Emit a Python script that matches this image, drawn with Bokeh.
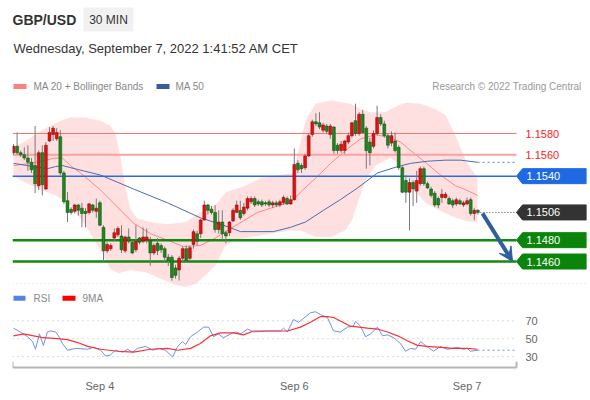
from bokeh.plotting import figure
from bokeh.layouts import column
from bokeh.models import Range1d, FixedTicker, Arrow, VeeHead, Span
from bokeh.embed import file_html
from bokeh.resources import INLINE
from bokeh.core.properties import value

FONT = "Liberation Sans"

# ---------------- data (30-min GBP/USD candles) ----------------
open_ = [1.1562, 1.1568, 1.1562, 1.1560, 1.1557, 1.1553, 1.1550, 1.1531, 1.1562, 1.1528,
         1.1573, 1.1579, 1.1575, 1.1577, 1.1543, 1.1517, 1.1509, 1.1507, 1.1513, 1.1510,
         1.1507, 1.1506, 1.1513, 1.1507, 1.1515, 1.1492, 1.1470, 1.1472, 1.1482, 1.1485,
         1.1484, 1.1470, 1.1483, 1.1478, 1.1471, 1.1482, 1.1479, 1.1480, 1.1480, 1.1468,
         1.1477, 1.1475, 1.1472, 1.1464, 1.1464, 1.1454, 1.1452, 1.1463, 1.1472, 1.1463,
         1.1476, 1.1486, 1.1486, 1.1499, 1.1513, 1.1509, 1.1506, 1.1490, 1.1497, 1.1487,
         1.1487, 1.1498, 1.1506, 1.1508, 1.1505, 1.1510, 1.1516, 1.1519, 1.1516, 1.1516,
         1.1515, 1.1516, 1.1513, 1.1515, 1.1513, 1.1515, 1.1519, 1.1514, 1.1518, 1.1552,
         1.1550, 1.1548, 1.1559, 1.1579, 1.1591, 1.1590, 1.1583, 1.1587, 1.1579, 1.1586,
         1.1569, 1.1564, 1.1564, 1.1572, 1.1578, 1.1592, 1.1580, 1.1598, 1.1585, 1.1572,
         1.1568, 1.1580, 1.1595, 1.1589, 1.1578, 1.1571, 1.1573, 1.1567, 1.1548, 1.1536,
         1.1525, 1.1534, 1.1526, 1.1533, 1.1547, 1.1533, 1.1528, 1.1524, 1.1519, 1.1520,
         1.1520, 1.1519, 1.1517, 1.1514, 1.1517, 1.1513, 1.1514, 1.1518, 1.1505, 1.1508]
high_ = [1.1570, 1.1581, 1.1564, 1.1567, 1.1569, 1.1557, 1.1587, 1.1564, 1.1569, 1.1572,
         1.1586, 1.1587, 1.1585, 1.1583, 1.1545, 1.1525, 1.1511, 1.1514, 1.1514, 1.1515,
         1.1510, 1.1515, 1.1514, 1.1519, 1.1517, 1.1494, 1.1478, 1.1477, 1.1491, 1.1493,
         1.1494, 1.1484, 1.1491, 1.1480, 1.1494, 1.1483, 1.1492, 1.1491, 1.1483, 1.1477,
         1.1482, 1.1477, 1.1474, 1.1467, 1.1466, 1.1457, 1.1465, 1.1474, 1.1475, 1.1475,
         1.1490, 1.1489, 1.1500, 1.1517, 1.1514, 1.1512, 1.1513, 1.1508, 1.1508, 1.1489,
         1.1498, 1.1510, 1.1517, 1.1517, 1.1515, 1.1521, 1.1521, 1.1521, 1.1518, 1.1518,
         1.1517, 1.1518, 1.1517, 1.1517, 1.1518, 1.1522, 1.1521, 1.1522, 1.1566, 1.1555,
         1.1552, 1.1561, 1.1580, 1.1593, 1.1599, 1.1600, 1.1590, 1.1589, 1.1589, 1.1587,
         1.1571, 1.1573, 1.1574, 1.1581, 1.1591, 1.1608, 1.1600, 1.1602, 1.1587, 1.1576,
         1.1583, 1.1606, 1.1598, 1.1592, 1.1580, 1.1582, 1.1581, 1.1569, 1.1550, 1.1541,
         1.1538, 1.1536, 1.1545, 1.1549, 1.1549, 1.1535, 1.1530, 1.1526, 1.1521, 1.1528,
         1.1525, 1.1521, 1.1519, 1.1520, 1.1519, 1.1517, 1.1520, 1.1520, 1.1510, 1.1509]
low_ = [1.1560, 1.1560, 1.1558, 1.1555, 1.1545, 1.1543, 1.1524, 1.1527, 1.1522, 1.1527,
        1.1572, 1.1573, 1.1573, 1.1541, 1.1514, 1.1497, 1.1504, 1.1505, 1.1503, 1.1492,
        1.1492, 1.1504, 1.1506, 1.1501, 1.1493, 1.1459, 1.1468, 1.1470, 1.1479, 1.1483,
        1.1468, 1.1468, 1.1477, 1.1467, 1.1469, 1.1476, 1.1477, 1.1477, 1.1456, 1.1466,
        1.1466, 1.1468, 1.1459, 1.1456, 1.1442, 1.1444, 1.1442, 1.1459, 1.1459, 1.1461,
        1.1472, 1.1475, 1.1482, 1.1498, 1.1504, 1.1504, 1.1487, 1.1486, 1.1480, 1.1477,
        1.1484, 1.1497, 1.1506, 1.1499, 1.1503, 1.1508, 1.1514, 1.1511, 1.1512, 1.1511,
        1.1512, 1.1511, 1.1510, 1.1511, 1.1511, 1.1513, 1.1513, 1.1513, 1.1517, 1.1543,
        1.1543, 1.1546, 1.1558, 1.1577, 1.1587, 1.1584, 1.1581, 1.1580, 1.1575, 1.1561,
        1.1561, 1.1562, 1.1561, 1.1570, 1.1576, 1.1578, 1.1578, 1.1580, 1.1547, 1.1550,
        1.1566, 1.1578, 1.1587, 1.1576, 1.1566, 1.1568, 1.1562, 1.1546, 1.1524, 1.1515,
        1.1489, 1.1512, 1.1515, 1.1531, 1.1531, 1.1528, 1.1520, 1.1511, 1.1510, 1.1515,
        1.1519, 1.1513, 1.1510, 1.1512, 1.1513, 1.1511, 1.1513, 1.1503, 1.1499, 1.1504]
close_ = [1.1568, 1.1562, 1.1560, 1.1557, 1.1553, 1.1546, 1.1533, 1.1562, 1.1532, 1.1569,
          1.1581, 1.1585, 1.1581, 1.1543, 1.1516, 1.1506, 1.1506, 1.1513, 1.1508, 1.1505,
          1.1505, 1.1514, 1.1508, 1.1510, 1.1494, 1.1470, 1.1476, 1.1475, 1.1487, 1.1491,
          1.1471, 1.1483, 1.1479, 1.1468, 1.1479, 1.1478, 1.1483, 1.1483, 1.1468, 1.1475,
          1.1470, 1.1471, 1.1464, 1.1461, 1.1445, 1.1447, 1.1463, 1.1472, 1.1461, 1.1473,
          1.1488, 1.1479, 1.1499, 1.1513, 1.1508, 1.1506, 1.1490, 1.1497, 1.1486, 1.1484,
          1.1497, 1.1508, 1.1513, 1.1501, 1.1511, 1.1519, 1.1519, 1.1513, 1.1514, 1.1513,
          1.1514, 1.1513, 1.1515, 1.1513, 1.1516, 1.1520, 1.1514, 1.1518, 1.1551, 1.1546,
          1.1547, 1.1559, 1.1578, 1.1591, 1.1589, 1.1586, 1.1588, 1.1582, 1.1587, 1.1564,
          1.1564, 1.1570, 1.1573, 1.1578, 1.1590, 1.1580, 1.1598, 1.1581, 1.1564, 1.1562,
          1.1580, 1.1595, 1.1589, 1.1578, 1.1569, 1.1578, 1.1564, 1.1548, 1.1525, 1.1525,
          1.1534, 1.1528, 1.1536, 1.1547, 1.1533, 1.1529, 1.1522, 1.1513, 1.1513, 1.1523,
          1.1523, 1.1514, 1.1513, 1.1518, 1.1514, 1.1515, 1.1517, 1.1505, 1.1508, 1.1506]

# MA 20 and Bollinger bands (candle index -> price)
ma20_x = [0, 4.7, 8.9, 11.7, 13.6, 15.8, 18.6, 24.2, 28.3, 33.3, 38.1, 42.8, 47.2, 51.9, 56.1,
          60.3, 67.8, 74.2, 76.9, 79.7, 83.9, 88.1, 92.2, 96.4, 100.6, 104.7, 107.5, 110.3,
          114.4, 118.6, 122.8, 125.8, 128.9]
ma20_y = [1.1550, 1.1552, 1.1555, 1.1557, 1.1557, 1.1550, 1.1543, 1.1527, 1.1513, 1.1496,
          1.1486, 1.1480, 1.1474, 1.1475, 1.1482, 1.1491, 1.1506, 1.1513, 1.1515, 1.1525,
          1.1538, 1.1552, 1.1564, 1.1575, 1.1579, 1.1576, 1.1572, 1.1564, 1.1553, 1.1541,
          1.1531, 1.1527, 1.1522]
bb_up_x = [0, 3.3, 8.9, 13.1, 15.8, 20, 24.2, 26.9, 28.3, 29.7, 31.1, 32.5, 34.4, 38.1, 42.8,
           47.8, 51.9, 56.1, 58.9, 64.4, 68.6, 74.2, 77.5, 79.2, 81.1, 83.9, 88.1, 93.6, 96.4,
           99.2, 103.3, 106.1, 108.9, 113.1, 117.2, 120, 122.8, 125.6, 128.9]
bb_up_y = [1.1567, 1.1573, 1.1585, 1.1592, 1.1595, 1.1595, 1.1592, 1.1587, 1.1580, 1.1558,
           1.1529, 1.1509, 1.1500, 1.1497, 1.1495, 1.1497, 1.1506, 1.1513, 1.1525, 1.1531,
           1.1538, 1.1541, 1.1543, 1.1564, 1.1592, 1.1608, 1.1611, 1.1608, 1.1603, 1.1600,
           1.1600, 1.1605, 1.1609, 1.1608, 1.1603, 1.1597, 1.1578, 1.1555, 1.1538]
bb_lo_x = [0, 3.3, 7.5, 11.7, 15.8, 20, 24.2, 26.9, 29.2, 32.5, 36.7, 40.8, 45, 47.8, 50.6,
           53.3, 56.1, 58.9, 61.7, 65.8, 71.4, 76.9, 79.7, 83.9, 88.1, 92.2, 94.2, 95.8, 97.8,
           100.6, 104.7, 107.5, 110.3, 114.4, 117.2, 121.4, 125.6, 128.9]
bb_lo_y = [1.1540, 1.1534, 1.1527, 1.1522, 1.1513, 1.1494, 1.1470, 1.1453, 1.1449, 1.1452,
           1.1450, 1.1444, 1.1438, 1.1436, 1.1439, 1.1447, 1.1456, 1.1475, 1.1480, 1.1483,
           1.1486, 1.1489, 1.1489, 1.1483, 1.1483, 1.1489, 1.1500, 1.1517, 1.1536, 1.1550,
           1.1557, 1.1550, 1.1531, 1.1515, 1.1510, 1.1503, 1.1498, 1.1497]
ma50_x = [0, 5.6, 9.4, 11.7, 13.6, 15.8, 19.4, 24.2, 33.3, 42.8, 51.9, 58.3, 63.1, 72.2, 76.9,
          81.1, 86.1, 90.8, 95.6, 101.1, 106.7, 110.3, 115, 120, 124.2, 128.9]
ma50_y = [1.1552, 1.1549, 1.1547, 1.1549, 1.1550, 1.1548, 1.1545, 1.1541, 1.1528, 1.1515,
          1.1501, 1.1494, 1.1488, 1.1488, 1.1492, 1.1497, 1.1508, 1.1518, 1.1529, 1.1543,
          1.1549, 1.1552, 1.1554, 1.1555, 1.1555, 1.1553]

# key levels
resistances = [1.1580, 1.1560]
pivot = 1.1540
last_price = 1.1506
supports = [1.1480, 1.1460]

# RSI and its 9-period MA
rsi_x = [0, 1.9, 3.9, 5.3, 6.1, 7.2, 8.3, 9.4, 10.3, 11.7, 12.5, 13.6, 15, 17.2, 20.6, 22.2,
         24.2, 25.6, 26.9, 28.3, 30.3, 31.7, 33.1, 34.4, 36.7, 38.6, 40.3, 42.2, 44.2, 45.6,
         46.9, 47.8, 49.2, 51.1, 52.8, 54.2, 55.6, 56.9, 58.3, 60.3, 61.7, 63.1, 65, 66.7,
         70.6, 74.2, 75, 76.1, 77.8, 79.2, 82.5, 83.9, 85.3, 87.2, 88.9, 90.8, 92.8, 94.4,
         95, 96.4, 97.8, 99.2, 101.1, 102.5, 103.9, 105.6, 107.5, 108.9, 110.3, 111.7, 113.1,
         114.4, 116.7, 118.6, 120.6, 123.3, 125, 126.1, 126.9, 128.9]
rsi_v = [61.8, 57.5, 52.2, 46.8, 38.2, 55.4, 42.5, 57.5, 58.6, 57.5, 53.2, 44.6, 37.1, 39.2,
         38.2, 40.3, 37.1, 30.6, 31.7, 37.1, 34.9, 38.2, 34.9, 39.2, 41.4, 37.1, 39.2, 37.1,
         29.6, 41.4, 46.8, 43.5, 52.2, 57.5, 62.9, 62.9, 52.2, 55.4, 51.1, 55.4, 57.5, 55.4,
         60.8, 57.5, 58.6, 58.6, 61.8, 57.5, 71.5, 68.3, 79.0, 80.1, 76.9, 73.7, 58.6, 57.5,
         62.9, 64.0, 69.4, 64.0, 52.2, 55.4, 62.9, 53.2, 54.3, 51.1, 44.6, 36.0, 39.2, 38.2,
         46.8, 42.5, 36.0, 41.4, 38.2, 40.3, 38.2, 39.2, 36.0, 37.1]
rsima_x = [0, 2.8, 5.6, 8.3, 12.2, 15, 17.8, 20.6, 24.2, 28.9, 33.3, 38.1, 42.8, 45.6, 49.2,
           51.9, 54.7, 57.5, 61.1, 63.9, 66.7, 70.6, 76.1, 79.7, 82.5, 85.3, 87.2, 88.9, 93.6,
           98.3, 101.1, 103.9, 106.7, 109.4, 112.2, 115, 118.6, 122.2, 126.1, 128.9]
rsima_v = [53.2, 55.4, 53.2, 51.1, 50.0, 48.9, 45.7, 41.4, 38.2, 36.0, 34.9, 38.2, 39.2, 37.1,
           39.2, 44.6, 53.2, 56.5, 56.5, 54.3, 58.6, 58.6, 58.6, 62.9, 68.3, 74.7, 74.7, 73.7,
           64.0, 61.8, 60.8, 57.5, 53.2, 47.8, 42.5, 41.4, 40.3, 39.2, 39.2, 38.2]
rsi_levels = [30, 50, 70]

date_ticks = [24, 78, 126]
date_labels = ["Sep 4", "Sep 6", "Sep 7"]

# ---------------- layout constants (page pixels) ----------------
W = 588
FL, FR = 12, 586    # frame left / right for all three panels (kept equal so the column aligns)
PX = 3.6            # pixels per candle
X0 = 13             # page pixel of candle 0
PPX = 0.00009375    # price per pixel


def xpx(px):
    return (px - X0) / PX


XS = xpx(FL)
XE = xpx(FR)
XL = xpx(516)


def fig(height, xr, yr, top=0, bottom=0):
    f = figure(width=W, height=height, x_range=xr, y_range=yr,
               output_backend="svg", toolbar_location=None,
               min_border_left=FL, min_border_right=W - FR,
               min_border_top=top, min_border_bottom=bottom,
               x_axis_location=None, y_axis_location=None, outline_line_color=None,
               background_fill_color="white", border_fill_color="white")
    f.grid.visible = False
    return f


def txt(f, x, y, t, size, color, align="left", style="normal"):
    f.text(x=[x], y=[y], text=[t], text_font=value(FONT), text_font_size=size,
           text_color=color, text_align=align, text_baseline="middle",
           text_font_style=style)


# ---------------- header (page-pixel coordinates) ----------------
hdr = fig(95, Range1d(FL, FR), Range1d(95, 0))
txt(hdr, 12, 19.5, "GBP/USD", "14px", "#333333", style="bold")
hdr.quad(left=[83], right=[133], top=[7], bottom=[31], fill_color="#f1f1f1", line_color=None)
txt(hdr, 108, 19.5, "30 MIN", "12px", "#333333", align="center")
txt(hdr, 13, 48, "Wednesday, September 7, 2022 1:41:52 AM CET", "13px", "#333333")
hdr.quad(left=[13], right=[26], top=[83.5], bottom=[88.5], fill_color="#ff8080", line_color=None)
txt(hdr, 33, 86, "MA 20 + Bollinger Bands", "10px", "#888888")
hdr.quad(left=[156], right=[169], top=[83.5], bottom=[88.5], fill_color="#3a5b9c", line_color=None)
txt(hdr, 175, 86, "MA 50", "10px", "#888888")
txt(hdr, 581, 86, "Research \u00a9 2022 Trading Central", "10px", "#999999", align="right")

# ---------------- price panel ----------------
y_top = resistances[0] + 38 * PPX
y_bot = resistances[0] - 157 * PPX
p = fig(195, Range1d(XS, XE), Range1d(y_bot, y_top))

p.add_layout(Span(location=y_bot + 7 * PPX, dimension="width", line_color="#dcdcdc",
                  line_dash="1 3", line_width=1))

# bollinger band
p.patch(x=bb_up_x + bb_lo_x[::-1], y=bb_up_y + bb_lo_y[::-1], fill_color="#ff0000",
        fill_alpha=0.12, line_color=None)
p.line(ma20_x, ma20_y, line_color="#ff8585", line_width=1)
p.line(ma50_x, ma50_y, line_color="#4a6db0", line_width=1)
p.segment(x0=[ma50_x[-1]], y0=[ma50_y[-1]], x1=[XL], y1=[ma50_y[-1]],
          line_color="#5a7ab8", line_dash="2 3", line_width=1)

# level lines
p.segment(x0=[XS], y0=[resistances[0]], x1=[XL], y1=[resistances[0]], line_color="#f07878", line_width=1)
p.segment(x0=[XS], y0=[resistances[1]], x1=[XL], y1=[resistances[1]], line_color="#f7a3a3", line_width=2)
p.segment(x0=[XS], y0=[pivot], x1=[XL], y1=[pivot], line_color="#2a6be0", line_width=1.5)
p.segment(x0=[XS, XS], y0=supports, x1=[XL, XL], y1=supports, line_color="#118a11", line_width=2.5)
p.segment(x0=[len(close_) - 0.3], y0=[last_price], x1=[XL], y1=[last_price],
          line_color="#444444", line_dash="1 2", line_width=1)

# candles (red = rising, green = falling)
idx = list(range(len(close_)))
up_i = [i for i in idx if close_[i] >= open_[i]]
dn_i = [i for i in idx if close_[i] < open_[i]]
p.segment(x0=idx, y0=high_, x1=idx, y1=low_, line_color="#7a7a7a", line_width=1)
p.vbar(x=up_i, width=0.8, top=[close_[i] for i in up_i], bottom=[open_[i] for i in up_i],
       fill_color="#e31010", line_color="#8a0000", line_width=0.5)
p.vbar(x=dn_i, width=0.8, top=[open_[i] for i in dn_i], bottom=[close_[i] for i in dn_i],
       fill_color="#1f861f", line_color="#0b4a0b", line_width=0.5)

# right-hand labels
for lvl in resistances:
    p.text(x=[xpx(525)], y=[lvl], text=[f"{lvl:.4f}"], text_font=value(FONT),
           text_font_size="11px", text_color="#ff2020", text_align="left", text_baseline="middle")

h = 7.5 * PPX
for lvl, col in [(pivot, "#1f6ae3"), (last_price, "#333333"),
                 (supports[0], "#0b840b"), (supports[1], "#0b840b")]:
    p.patch(x=[xpx(516), xpx(522), XE, XE, xpx(522)], y=[lvl, lvl + h, lvl + h, lvl - h, lvl - h],
            fill_color=col, line_color=col)
    p.text(x=[xpx(526)], y=[lvl], text=[f"{lvl:.4f}"], text_font=value(FONT),
           text_font_size="11px", text_color="white", text_align="left", text_baseline="middle")

AC = "#2f5d9e"
p.add_layout(Arrow(end=VeeHead(size=14, fill_color=AC, line_color=AC, line_width=1),
                   x_start=xpx(482), y_start=last_price - 1 * PPX,
                   x_end=xpx(512), y_end=supports[1],
                   line_color=AC, line_width=4))

# ---------------- RSI panel ----------------
RPX = 0.93                      # pixels per RSI point
r_lo = 50 - 32 / RPX            # frame bottom at page y 372
r_hi = 50 + 48 / RPX            # frame top at page y 292
r_axis = 50 - 30 / RPX          # axis line at page y 370
r = figure(width=W, height=104, x_range=Range1d(XS, XE), y_range=Range1d(r_lo, r_hi),
           output_backend="svg", toolbar_location=None,
           min_border_left=FL, min_border_right=W - FR, min_border_top=2, min_border_bottom=22,
           y_axis_location=None, outline_line_color=None,
           background_fill_color="white", border_fill_color="white")
r.grid.visible = False

ax = r.xaxis[0]
ax.ticker = FixedTicker(ticks=date_ticks)
ax.major_label_overrides = {t: l for t, l in zip(date_ticks, date_labels)}
ax.axis_line_color = None
ax.major_tick_line_color = None
ax.minor_tick_line_color = None
ax.major_label_standoff = 4
ax.major_label_text_font = FONT
ax.major_label_text_font_size = "11px"
ax.major_label_text_color = "#666666"

# dotted RSI levels and their labels
r.segment(x0=[XS] * 3, y0=rsi_levels, x1=[XL] * 3, y1=rsi_levels,
          line_color="#b8b8b8", line_dash="1 4", line_width=1)
for lv in rsi_levels:
    txt(r, xpx(525), lv, str(lv), "11px", "#666666")

# axis line with end ticks
r.segment(x0=[XS, XS, XL], y0=[r_axis, r_axis, r_axis], x1=[XL, XS, XL],
          y1=[r_axis, r_axis + 6 / RPX, r_axis + 6 / RPX], line_color="#b5b5b5", line_width=2)

r.line(rsi_x, rsi_v, line_color="#7090ea", line_width=1)
r.line(rsima_x, rsima_v, line_color="#ff3030", line_width=1.2)
r.segment(x0=[rsi_x[-1]], y0=[rsi_v[-1]], x1=[XL - 0.3], y1=[rsi_v[-1]],
          line_color="#7090ea", line_dash="2 3", line_width=1)

leg_y = 50 + (340 - 298) / RPX
sw = 2.5 / RPX
r.quad(left=[xpx(13)], right=[xpx(25)], top=[leg_y + sw], bottom=[leg_y - sw],
       fill_color="#5b7fe6", line_color=None)
txt(r, xpx(33), leg_y, "RSI", "10px", "#888888")
r.quad(left=[xpx(62)], right=[xpx(75)], top=[leg_y + sw], bottom=[leg_y - sw],
       fill_color="#ff0000", line_color=None)
txt(r, xpx(82), leg_y, "9MA", "10px", "#888888")

layout = column(hdr, p, r, spacing=0)
open("out.html", "w").write(file_html(layout, INLINE))
